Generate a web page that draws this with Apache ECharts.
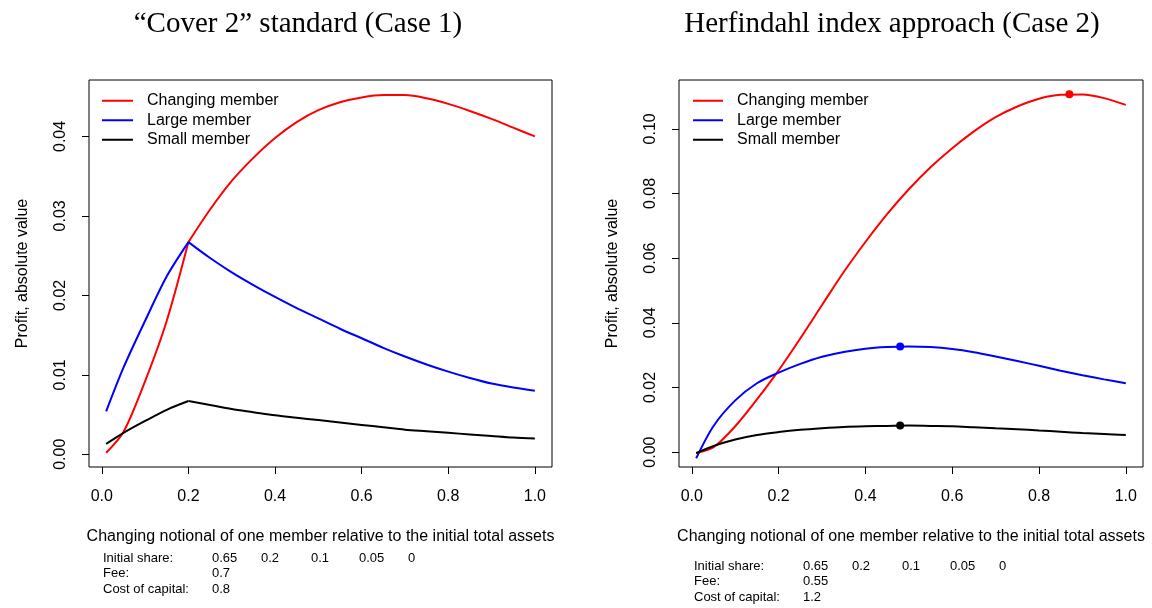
<!DOCTYPE html>
<html>
<head>
<meta charset="utf-8">
<script src="https://cdn.jsdelivr.net/npm/echarts@6/dist/echarts.min.js"></script>
<style>
  html, body { margin: 0; padding: 0; background: #fff; }
  #chart { width: 1152px; height: 608px; }
</style>
</head>
<body>
<div id="chart"></div>
<script>
// x values (changing notional relative to initial total assets)
var xs = [0.01, 0.05, 0.1, 0.15, 0.2, 0.25, 0.3, 0.35, 0.4, 0.45, 0.5,
          0.55, 0.6, 0.65, 0.7, 0.75, 0.8, 0.85, 0.9, 0.95, 1.0];
var kinkIndex = 4; // case 1 curves break at x = 0.2

// Case 1: "Cover 2" standard
var case1Changing = [0.0002, 0.0028, 0.0092, 0.0168, 0.0267, 0.0308, 0.0344, 0.0373, 0.0398, 0.0418, 0.0433,
                     0.0443, 0.0449, 0.0452, 0.0452, 0.0448, 0.0441, 0.0432, 0.0422, 0.0411, 0.0400];
var case1Large    = [0.0054, 0.0109, 0.0168, 0.0224, 0.0267, 0.0247, 0.0229, 0.0213, 0.0198, 0.0184, 0.0171,
                     0.0158, 0.0146, 0.0134, 0.0123, 0.0113, 0.0104, 0.0096, 0.0089, 0.0084, 0.0080];
var case1Small    = [0.0013, 0.0027, 0.0042, 0.0056, 0.0067, 0.0062, 0.0057, 0.0053, 0.0049, 0.0046, 0.0043,
                     0.0040, 0.0037, 0.0034, 0.0031, 0.0029, 0.0027, 0.0025, 0.0023, 0.0021, 0.0020];

// Case 2: Herfindahl index approach
var case2Changing = [-0.0003, 0.0015, 0.0080, 0.0163, 0.0253, 0.0352, 0.0455, 0.0557, 0.0650, 0.0736, 0.0813,
                     0.0881, 0.0940, 0.0992, 0.1036, 0.1069, 0.1093, 0.1105, 0.1106, 0.1095, 0.1074];
var case2Large    = [-0.0019, 0.0081, 0.0160, 0.0213, 0.0246, 0.0273, 0.0295, 0.0310, 0.0320, 0.0325, 0.0327,
                     0.0325, 0.0319, 0.0309, 0.0296, 0.0282, 0.0267, 0.0252, 0.0238, 0.0225, 0.0213];
var case2Small    = [-0.0003, 0.0019, 0.0039, 0.0053, 0.0062, 0.0069, 0.0074, 0.0078, 0.0080, 0.0081, 0.0082,
                     0.0081, 0.0080, 0.0077, 0.0074, 0.0071, 0.0067, 0.0063, 0.0059, 0.0056, 0.0053];

// maxima marked with dots in case 2
var case2PeakX = [0.87, 0.48, 0.48];
var case2PeakY = [0.1107, 0.0327, 0.0082];

// tick labels
var xTicks = [0, 0.2, 0.4, 0.6, 0.8, 1.0];
var yTicks1 = [0, 0.01, 0.02, 0.03, 0.04];
var yTicks2 = [0, 0.02, 0.04, 0.06, 0.08, 0.10];

// parameters printed under the plots
var shares = ['0.65', '0.2', '0.1', '0.05', '0'];
var fee1 = '0.7', cost1 = '0.8';
var fee2 = '0.55', cost2 = '1.2';

var names = ['Changing member', 'Large member', 'Small member'];
var colors = ['#ff0000', '#0000ff', '#000000'];

var sans = '"Liberation Sans", Arial, sans-serif';
var serif = '"Liberation Serif", "Times New Roman", serif';

function pairs(ys) {
    return xs.map(function (x, i) { return [x, ys[i]]; });
}

function lineSeries(name, data, idx, color) {
    return {
        name: name,
        type: 'line',
        xAxisIndex: idx,
        yAxisIndex: idx,
        data: data,
        showSymbol: false,
        symbol: 'none',
        smooth: 0.3,
        color: color,
        lineStyle: { color: color, width: 2 },
        silent: true,
        animation: false
    };
}

function xAxisOf(idx) {
    return {
        type: 'value',
        gridIndex: idx,
        min: -0.0296,
        max: 1.0396,
        name: 'Changing notional of one member relative to the initial total assets',
        nameLocation: 'middle',
        nameGap: 62,
        nameTextStyle: { fontFamily: sans, fontSize: 16, color: '#000' },
        axisLine: { show: false, onZero: false },
        axisTick: { show: true, length: 7, customValues: xTicks, lineStyle: { color: '#000' } },
        axisLabel: {
            customValues: xTicks, margin: 22,
            fontFamily: sans, fontSize: 16, color: '#000',
            formatter: function (v) { return v.toFixed(1); }
        },
        splitLine: { show: false }
    };
}

function yAxisOf(idx, min, max, ticks) {
    return {
        type: 'value',
        gridIndex: idx,
        min: min,
        max: max,
        name: 'Profit, absolute value',
        nameLocation: 'middle',
        nameGap: 58,
        nameRotate: 90,
        nameTextStyle: { fontFamily: sans, fontSize: 16, color: '#000' },
        axisLine: { show: false, onZero: false },
        axisTick: { show: true, length: 7, customValues: ticks, lineStyle: { color: '#000' } },
        axisLabel: {
            customValues: ticks, margin: 20, rotate: 90,
            fontFamily: sans, fontSize: 16, color: '#000',
            formatter: function (v) { return v.toFixed(2); }
        },
        splitLine: { show: false }
    };
}

function legendOf(left, width) {
    return {
        data: names,
        orient: 'vertical',
        left: left,
        top: 91,
        padding: 0,
        itemGap: 0,
        itemWidth: width,
        itemHeight: 2,
        icon: 'rect',
        selectedMode: false,
        textStyle: { fontFamily: sans, fontSize: 16, color: '#000', lineHeight: 19.5, padding: [0, 0, 0, 9] }
    };
}

function noteTexts(x0, y0, fee, cost) {
    var out = [];
    var rows = [['Initial share:', shares], ['Fee:', [fee]], ['Cost of capital:', [cost]]];
    var colX = [109, 158, 208, 256, 305];
    var rowY = [0, 15, 31];
    rows.forEach(function (r, i) {
        out.push({ type: 'text', x: x0, y: y0 + rowY[i],
            style: { text: r[0], font: '13px ' + sans, fill: '#000', textAlign: 'left', textVerticalAlign: 'middle' } });
        r[1].forEach(function (v, j) {
            out.push({ type: 'text', x: x0 + colX[j], y: y0 + rowY[i],
                style: { text: v, font: '13px ' + sans, fill: '#000', textAlign: 'left', textVerticalAlign: 'middle' } });
        });
    });
    return out;
}

var series = [];
// case 1: draw each curve in two pieces so the corner at x = 0.2 stays sharp
[case1Changing, case1Large, case1Small].forEach(function (ys, i) {
    var p = pairs(ys);
    series.push(lineSeries(names[i], p.slice(0, kinkIndex + 1), 0, colors[i]));
    series.push(lineSeries(names[i], p.slice(kinkIndex), 0, colors[i]));
});
[case2Changing, case2Large, case2Small].forEach(function (ys, i) {
    series.push(lineSeries(names[i], pairs(ys), 1, colors[i]));
});
case2PeakX.forEach(function (x, i) {
    series.push({
        name: 'peak ' + i,
        type: 'scatter',
        xAxisIndex: 1,
        yAxisIndex: 1,
        data: [[x, case2PeakY[i]]],
        symbol: 'circle',
        symbolSize: 8,
        itemStyle: { color: colors[i], opacity: 1 },
        z: 5,
        silent: true,
        animation: false
    });
});

var graphics = [
    { type: 'text', x: 298, y: 24,
      style: { text: '\u201cCover 2\u201d standard (Case 1)', font: '29px ' + serif, fill: '#000', textAlign: 'center', textVerticalAlign: 'middle' } },
    { type: 'text', x: 892, y: 24,
      style: { text: 'Herfindahl index approach (Case 2)', font: '29px ' + serif, fill: '#000', textAlign: 'center', textVerticalAlign: 'middle' } }
].concat(noteTexts(103, 558, fee1, cost1)).concat(noteTexts(694, 566, fee2, cost2));

var myChart = echarts.init(document.getElementById('chart'), null, { renderer: 'canvas' });
myChart.setOption({
    backgroundColor: '#ffffff',
    animation: false,
    grid: [
        { left: 89, top: 80, width: 463, height: 387, show: true, borderColor: '#000', borderWidth: 1 },
        { left: 679, top: 80, width: 464, height: 387, show: true, borderColor: '#000', borderWidth: 1 }
    ],
    xAxis: [xAxisOf(0), xAxisOf(1)],
    yAxis: [
        yAxisOf(0, -0.0016, 0.0471, yTicks1),
        yAxisOf(1, -0.0046, 0.1151, yTicks2)
    ],
    legend: [legendOf(102, 31), legendOf(693, 30)],
    graphic: graphics,
    series: series
});
</script>
</body>
</html>
